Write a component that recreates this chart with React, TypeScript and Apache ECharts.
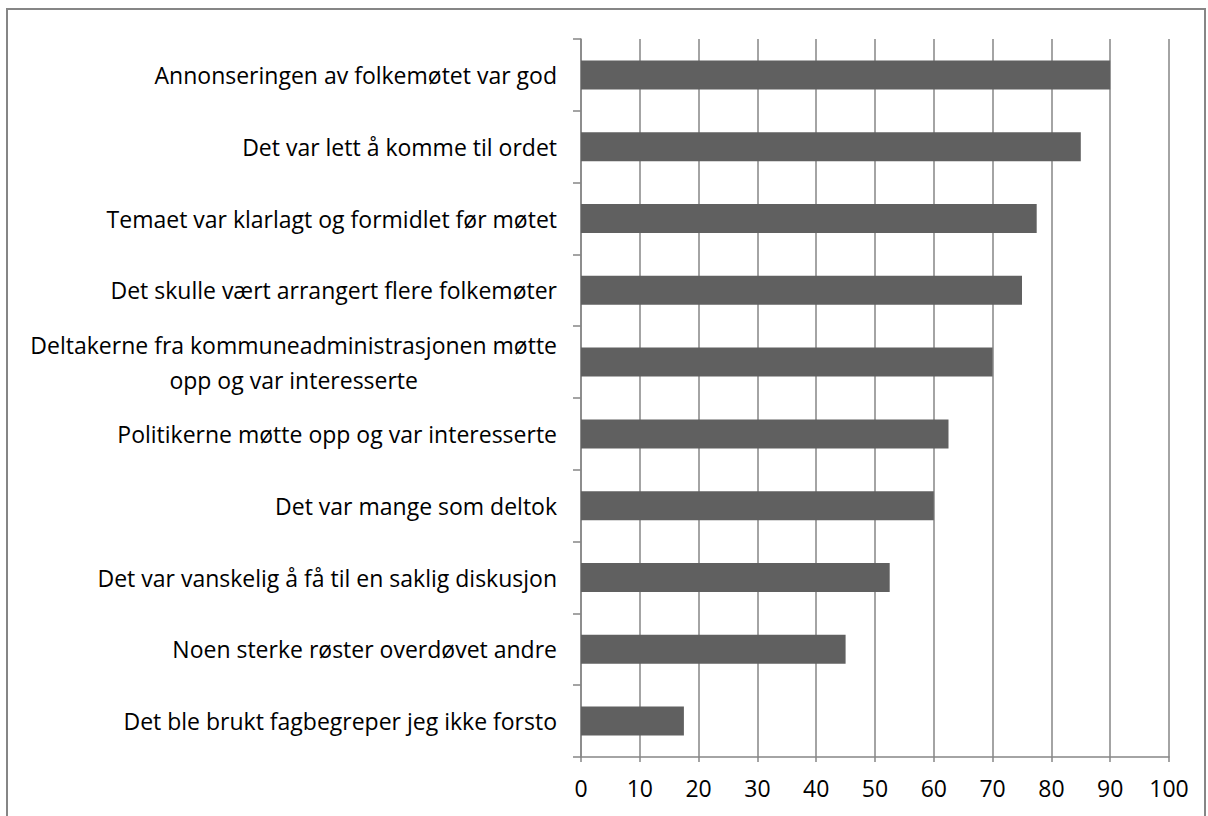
import React, { useEffect, useRef } from "react";
import * as echarts from "echarts";

const categories: string[] = [
  "Annonseringen av folkemøtet var god",
  "Det var lett å komme til ordet",
  "Temaet var klarlagt og formidlet før møtet",
  "Det skulle vært arrangert flere folkemøter",
  "Deltakerne fra kommuneadministrasjonen møtte\nopp og var interesserte",
  "Politikerne møtte opp og var interesserte",
  "Det var mange som deltok",
  "Det var vanskelig å få til en saklig diskusjon",
  "Noen sterke røster overdøvet andre",
  "Det ble brukt fagbegreper jeg ikke forsto",
];
const values: number[] = [90, 85, 77.5, 75, 70, 62.5, 60, 52.5, 45, 17.5];
const xTicks: number[] = [0, 10, 20, 30, 40, 50, 60, 70, 80, 90, 100];

const FONT = "Open Sans";
const FS = 23;

export default function App() {
  const ref = useRef<HTMLDivElement>(null);
  useEffect(() => {
    if (!ref.current) return;
    const chart = echarts.init(ref.current, undefined, { renderer: "svg" });
    const canvas = document.createElement("canvas");
    const ctx = canvas.getContext("2d")!;
    ctx.font = `${FS}px "${FONT}"`;
    const multiWidth = (s: string) =>
      Math.max(...s.split("\n").map((l) => ctx.measureText(l).width));
    const grey = "#868686";
    chart.setOption({
      animation: false,
      backgroundColor: "#ffffff",
      graphic: [
        {
          type: "rect",
          shape: { x: 7, y: 9, width: 1198, height: 900 },
          style: { fill: "none", stroke: grey, lineWidth: 2 },
          silent: true,
        },
      ],
      grid: { left: 581, right: 39, top: 39, bottom: 59, containLabel: false },
      xAxis: {
        type: "value",
        min: xTicks[0],
        max: xTicks[xTicks.length - 1],
        interval: 10,
        axisLine: { show: true, lineStyle: { color: grey, width: 1.5 } },
        axisTick: { show: true, length: 5, lineStyle: { color: grey, width: 1.5 } },
        splitLine: { show: true, lineStyle: { color: grey, width: 1.5 } },
        axisLabel: {
          margin: 19,
          fontFamily: FONT,
          fontSize: FS,
          color: "#000000",
        },
      },
      yAxis: {
        type: "category",
        inverse: true,
        data: categories,
        axisLine: { show: true, lineStyle: { color: grey, width: 1.5 } },
        axisTick: { show: true, length: 8, lineStyle: { color: grey, width: 1.5 } },
        axisLabel: {
          margin: 24,
          fontFamily: FONT,
          fontSize: FS,
          color: "#000000",
          lineHeight: 35,
          formatter: (v: string) => {
            if (v.indexOf("\n") >= 0) {
              return v
                .split("\n")
                .map((l) => `{c|${l}}`)
                .join("\n");
            }
            return v;
          },
          rich: {
            c: {
              width: multiWidth(categories[4]),
              align: "center",
              fontFamily: FONT,
              fontSize: FS,
              color: "#000000",
              lineHeight: 35,
            },
          },
        },
      },
      series: [
        {
          type: "bar",
          data: values,
          barWidth: 29,
          itemStyle: { color: "#606060" },
        },
      ],
    });
    return () => chart.dispose();
  }, []);
  return (
    <div
      ref={ref}
      style={{ position: "fixed", left: 0, top: 0, width: 1208, height: 816 }}
    />
  );
}
